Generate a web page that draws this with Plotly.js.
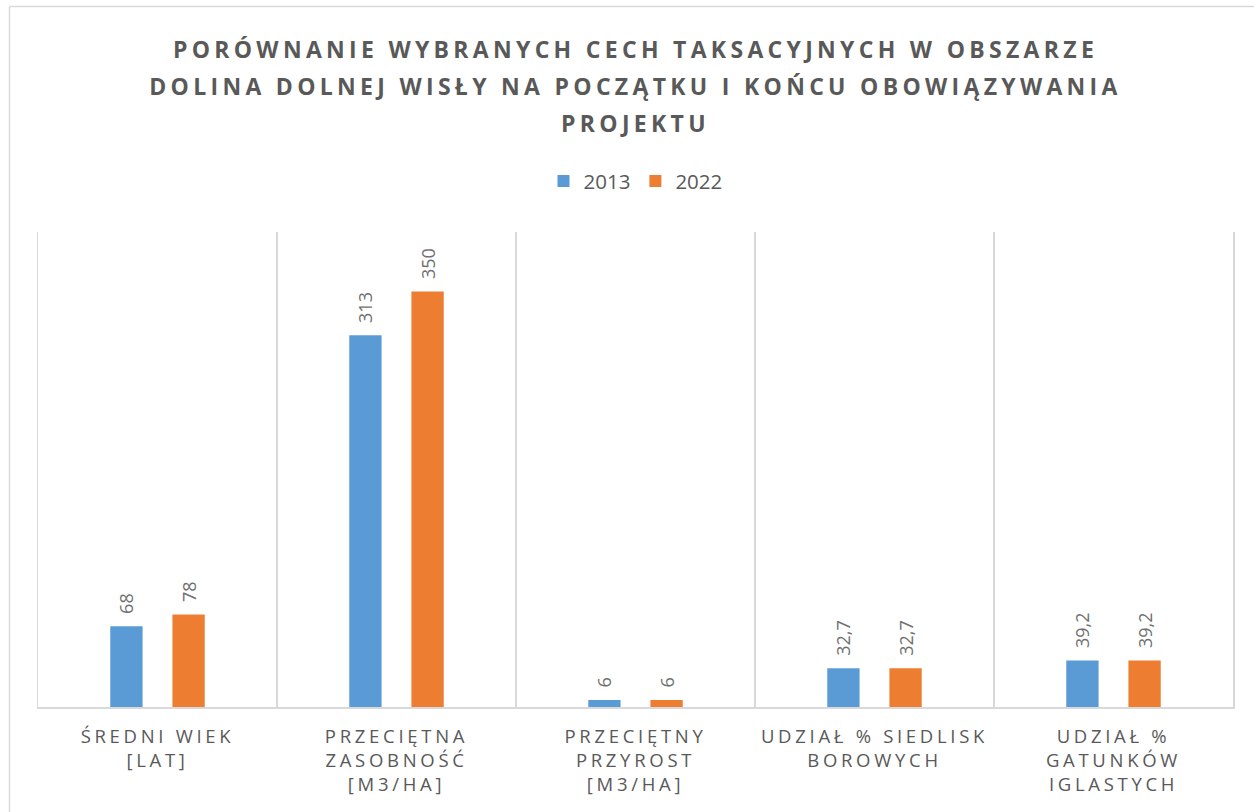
<!DOCTYPE html>
<html>
<head>
<meta charset="utf-8">
<script src="https://cdn.plot.ly/plotly-3.0.1.min.js"></script>
<style>
  html, body { margin: 0; padding: 0; background: #fff; }
  #chart { width: 1254px; height: 812px; }
  .gtitle { letter-spacing: 4.3px; }
  .xtick text { letter-spacing: 3.7px; }
</style>
</head>
<body>
<div id="chart"></div>
<script>
const categories = [
  "ŚREDNI WIEK<br>[LAT]",
  "PRZECIĘTNA<br>ZASOBNOŚĆ<br>[M3/HA]",
  "PRZECIĘTNY<br>PRZYROST<br>[M3/HA]",
  "UDZIAŁ % SIEDLISK<br>BOROWYCH",
  "UDZIAŁ %<br>GATUNKÓW<br>IGLASTYCH"
];
const values2013 = [68, 313, 6, 32.7, 39.2];
const values2022 = [78, 350, 6, 32.7, 39.2];
const seriesNames = ["2013", "2022"];
const titleLines = [
  "PORÓWNANIE WYBRANYCH CECH TAKSACYJNYCH W OBSZARZE",
  "DOLINA DOLNEJ WISŁY NA POCZĄTKU I KOŃCU OBOWIĄZYWANIA",
  "PROJEKTU"
];

const fmt = v => "\u00a0\u00a0" + String(v).replace(".", ",");

function barTrace(name, vals, color) {
  return {
    type: "bar",
    name: name,
    x: categories,
    y: vals,
    text: vals.map(fmt),
    textposition: "outside",
    textangle: -90,
    constraintext: "none",
    cliponaxis: false,
    textfont: { family: "Open Sans", size: 18, color: "#6f6f6f" },
    marker: { color: color },
    hoverinfo: "skip"
  };
}

const data = [
  barTrace(seriesNames[0], values2013, "#5B9BD5"),
  barTrace(seriesNames[1], values2022, "#ED7D31")
];

const lineCol = "#d9d9d9";
const layout = {
  width: 1254,
  height: 812,
  margin: { l: 38, r: 21, t: 232, b: 105, pad: 0 },
  paper_bgcolor: "#ffffff",
  plot_bgcolor: "#ffffff",
  font: { family: "Open Sans", color: "#595959" },
  title: {
    text: titleLines.map(t => '<span style="font-size:23px">' + t + '</span>').join("<br>"),
    font: { family: "Open Sans", size: 28.5, color: "#595959", weight: "bold" },
    x: 0.5,
    xanchor: "center",
    xref: "paper",
    yref: "container",
    y: 0.929,
    yanchor: "top"
  },
  showlegend: true,
  legend: {
    orientation: "h",
    x: 0.5,
    xanchor: "center",
    y: 1.107,
    yanchor: "middle",
    font: { family: "Open Sans", size: 20.5, color: "#595959" },
    traceorder: "normal"
  },
  barmode: "group",
  bargap: 0.48,
  bargroupgap: 0.48,
  xaxis: {
    type: "category",
    tickson: "boundaries",
    showgrid: true,
    gridcolor: lineCol,
    gridwidth: 1.5,
    showline: true,
    linecolor: lineCol,
    linewidth: 1.5,
    ticks: "",
    ticklabelstandoff: 12,
    tickfont: { family: "Open Sans", size: 18.5, color: "#595959" },
    fixedrange: true
  },
  yaxis: {
    range: [0, 400],
    showticklabels: false,
    showgrid: false,
    zeroline: false,
    showline: true,
    mirror: true,
    linecolor: lineCol,
    linewidth: 1.5,
    ticks: "",
    fixedrange: true
  },
  shapes: [
    { type: "line", xref: "paper", yref: "paper",
      x0: (9.5 - 38) / 1195, x1: 1.2, y0: (707 - 6.5) / 475, y1: (707 - 6.5) / 475,
      line: { color: lineCol, width: 1.5 } },
    { type: "line", xref: "paper", yref: "paper",
      x0: (9.5 - 38) / 1195, x1: (9.5 - 38) / 1195, y0: (707 - 6.5) / 475, y1: -0.5,
      line: { color: lineCol, width: 1.5 } }
  ]
};

Plotly.newPlot("chart", data, layout, { displayModeBar: false, staticPlot: true });
</script>
</body>
</html>
